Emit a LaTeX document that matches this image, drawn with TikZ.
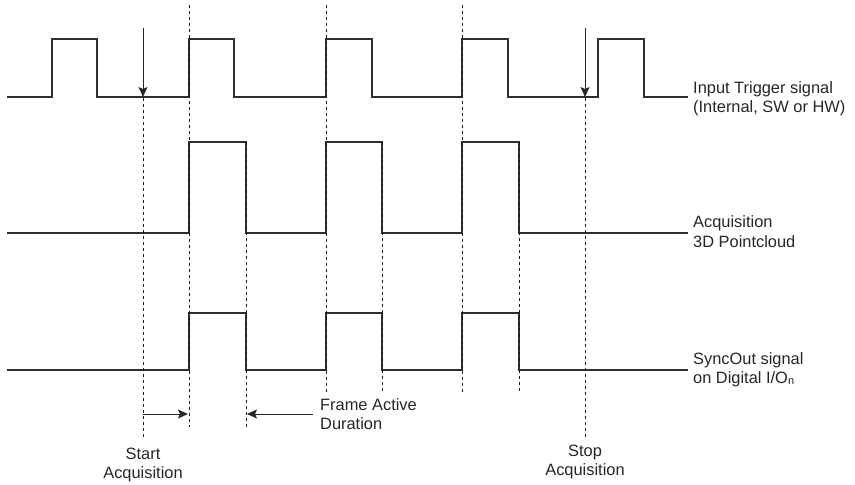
\documentclass[tikz,border=0pt]{standalone}
\usepackage{fontspec}
\setmainfont{Liberation Sans}
\usetikzlibrary{arrows.meta}
\begin{document}
\begin{tikzpicture}[x=1pt,y=-1pt,
  signal/.style={line width=1.1pt, draw=black!82},
  guide/.style={line width=0.8pt, dash pattern=on 3pt off 3pt, draw=black!90},
  trig/.style={line width=1pt, draw=black!85, -{Stealth[length=10pt,width=9pt,inset=2pt]}},
  lbl/.style={anchor=base west, inner sep=0pt, font=\fontsize{16.4}{19}\selectfont, text=black!85},
  clbl/.style={anchor=base, inner sep=0pt, font=\fontsize{16.4}{19}\selectfont, text=black!85}]
\useasboundingbox (0,0) rectangle (855,485);

% signals
\draw[signal] (7,97) -| (52,39) -| (97,97) -| (189,39) -| (234,97) -| (326,39) -| (372,97)
  -| (462,39) -| (508,97) -| (598,39) -| (644,97) -- (688,97);
\draw[signal] (7,233) -| (189,142) -| (246,233) -| (326,142) -| (382,233) -| (462,142) -| (519,233) -- (688,233);
\draw[signal] (7,370) -| (189,313) -| (246,370) -| (326,313) -| (382,370) -| (462,313) -| (519,370) -- (688,370);

% guide lines
\draw[guide] (143,98) -- (143,438);
\draw[guide] (189,5) -- (189,427);
\draw[guide] (246,142) -- (246,427);
\draw[guide] (326,5) -- (326,392);
\draw[guide] (382,142) -- (382,392);
\draw[guide] (462,5) -- (462,392);
\draw[guide] (519,142) -- (519,392);
\draw[guide] (585,98) -- (585,438);

% trigger arrows
\coordinate (t1s) at (143,28);
\coordinate (t1e) at (143,97);
\coordinate (t2s) at (585,28);
\coordinate (t2e) at (585,97);
\draw[trig] (t1s) -- (t1e);
\draw[trig] (t2s) -- (t2e);

% bottom arrows
\coordinate (a1s) at (143,414);
\coordinate (a1e) at (188,414);
\coordinate (a2s) at (313,414);
\coordinate (a2e) at (247,414);
\draw[trig] (a1s) -- (a1e);
\draw[trig] (a2s) -- (a2e);

% labels
\node[lbl] (in1) at (693,93) {Input Trigger signal};
\node[lbl] (in2) at (693,112) {(Internal, SW or HW)};
\node[lbl] (ac1) at (693,227.5) {Acquisition};
\node[lbl] (ac2) at (693,247) {3D Pointcloud};
\node[lbl] (so1) at (693,364) {SyncOut signal};
\node[lbl] (so2) at (693,383) {on Digital I/O\raisebox{-1pt}{\fontsize{11}{11}\selectfont n}};
\node[lbl] (fa1) at (320,410) {Frame Active};
\node[lbl] (fa2) at (320,429) {Duration};
\node[clbl] (st1) at (143,459) {Start};
\node[clbl] (st2) at (143,478) {Acquisition};
\node[clbl] (sp1) at (585,456.5) {Stop};
\node[clbl] (sp2) at (585,475.5) {Acquisition};
\end{tikzpicture}
\end{document}
